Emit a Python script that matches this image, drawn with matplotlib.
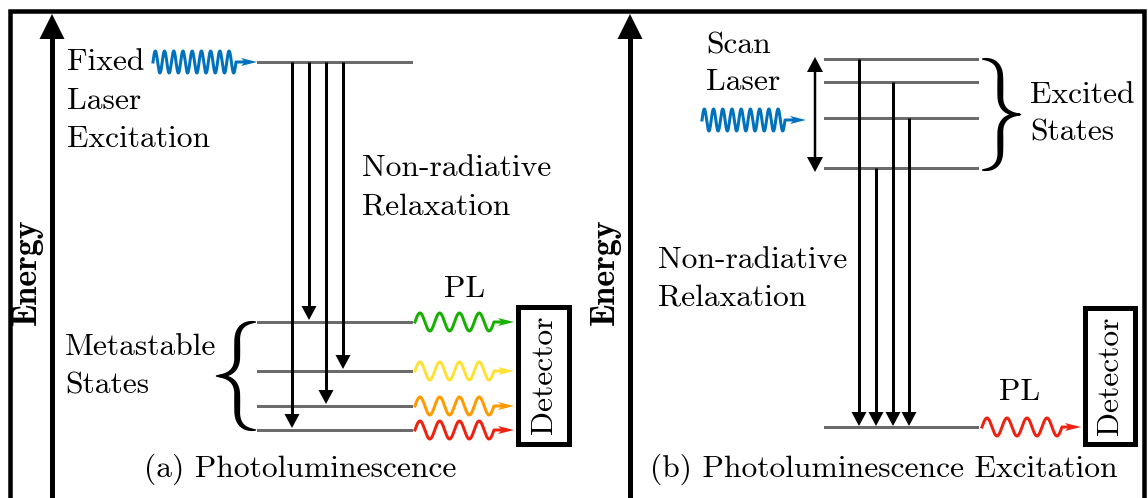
import numpy as np
import matplotlib.pyplot as plt
from matplotlib.patches import Polygon, Rectangle

# canvas in pixel units (y grows downward)
W, H = 1148, 498
PX = 0.72  # points per pixel at dpi 100

# (a) photoluminescence: pump level and metastable states
pl_pump = 62
pl_states = [322, 371, 406, 430]
pl_colors = ['#18b000', '#ffe135', '#ff9a00', '#ee2211']
pl_drop_x = [292, 309, 326, 343]
pl_drop_to = [430, 322, 406, 371]

# (b) photoluminescence excitation: excited states and ground level
ple_states = [59, 82, 118, 168]
ple_ground = 427
ple_drop_x = [859, 876, 893, 909]
ple_drop_from = [59, 168, 82, 118]

LEVEL = '#6b6b6b'
BLUE = '#0072bd'
FONT = 'cmr10'
FS = 22.7


def head(ax, tx, ty, ux, uy, length, width, color, notch=0.0, z=5):
    n = np.hypot(ux, uy)
    ux, uy = ux / n, uy / n
    bx, by = tx - ux * length, ty - uy * length
    px, py = -uy, ux
    pts = [(tx, ty),
           (bx + px * width / 2, by + py * width / 2),
           (bx + ux * notch * length, by + uy * notch * length),
           (bx - px * width / 2, by - py * width / 2)]
    ax.add_patch(Polygon(pts, closed=True, fc=color, ec='none', zorder=z))


def arrow(ax, x0, y0, x1, y1, lw, hl, hw, color='black', both=False):
    ux, uy = x1 - x0, y1 - y0
    n = np.hypot(ux, uy)
    ux, uy = ux / n, uy / n
    sx0, sy0 = (x0 + ux * hl * 0.8, y0 + uy * hl * 0.8) if both else (x0, y0)
    ax.plot([sx0, x1 - ux * hl * 0.8], [sy0, y1 - uy * hl * 0.8],
            color=color, lw=lw * PX, solid_capstyle='butt', zorder=4)
    head(ax, x1, y1, ux, uy, hl, hw, color)
    if both:
        head(ax, x0, y0, -ux, -uy, hl, hw, color)


def wave(ax, x0, x1, y, cycles, amp, color, tip, hl=16, hw=8):
    xs = np.linspace(x0, x1, 600)
    ys = y - amp * np.sin(2 * np.pi * cycles * (xs - x0) / (x1 - x0))
    xs = np.append(xs, tip - hl * 0.7)
    ys = np.append(ys, y)
    ax.plot(xs, ys, color=color, lw=3 * PX, solid_joinstyle='round', zorder=4)
    head(ax, tip, y, 1, 0, hl, hw, color, notch=0.25)


def qbez(p0, p1, p2, n=40):
    t = np.linspace(0, 1, n)[:, None]
    p0, p1, p2 = map(np.asarray, (p0, p1, p2))
    return (1 - t) ** 2 * p0 + 2 * (1 - t) * t * p1 + t ** 2 * p2


def brace(ax, x_end, x_tip, y0, y1, w_max=6.0, w_min=1.0):
    xs = x_end + 0.47 * (x_tip - x_end)
    ym = (y0 + y1) / 2
    r = abs(xs - x_end)
    seg1 = qbez((x_end, y0), (xs, y0), (xs, y0 + r))
    seg2 = np.column_stack([np.full(30, xs), np.linspace(y0 + r, ym - r, 30)])
    seg3 = qbez((xs, ym - r), (xs, ym), (x_tip, ym))
    top = np.vstack([seg1, seg2[1:], seg3[1:]])
    d = np.hypot(*np.diff(top, axis=0).T)
    s = np.concatenate([[0], np.cumsum(d)])
    s /= s[-1]
    w = w_min + (w_max - w_min) * np.sin(np.pi * s) ** 0.6
    bot = top[::-1].copy()
    bot[:, 1] = 2 * ym - bot[:, 1]
    c = np.vstack([top, bot[1:]])
    w = np.concatenate([w, w[::-1][1:]])
    g = np.gradient(c, axis=0)
    g /= np.hypot(g[:, 0], g[:, 1])[:, None]
    nrm = np.column_stack([-g[:, 1], g[:, 0]])
    left = c + nrm * w[:, None] / 2
    right = c - nrm * w[:, None] / 2
    ax.add_patch(Polygon(np.vstack([left, right[::-1]]), closed=True,
                         fc='black', ec='none', zorder=4))


def label(ax, x, y, s, **kw):
    kw.setdefault('ha', 'left')
    kw.setdefault('va', 'baseline')
    ax.text(x, y, s, fontfamily=FONT, fontsize=FS, color='black', **kw)


def detector(ax, x0, x1, y0, y1):
    b = 5
    ax.add_patch(Rectangle((x0 + b / 2, y0 + b / 2), x1 - x0 - b, y1 - y0 - b,
                           fill=False, ec='black', lw=b * PX, joinstyle='miter', zorder=4))
    ax.text((x0 + x1) / 2 + 1, (y0 + y1) / 2, 'Detector', rotation=90,
            ha='center', va='center', fontfamily=FONT, fontsize=FS)


fig = plt.figure(figsize=(11.48, 4.98), dpi=100)
ax = fig.add_axes([0, 0, 1, 1])
ax.set_xlim(0, W)
ax.set_ylim(H, 0)
ax.axis('off')

# frame
ax.plot([10, 10, 1144, 1144], [H, 11, 11, H], color='black', lw=4.5 * PX,
        solid_joinstyle='miter', zorder=3)

# energy axes
for ex, lx in [(52, 27), (630, 605)]:
    arrow(ax, ex, H + 5, ex, 14, 5, 25, 25)
    ax.text(lx, 272, 'Energy', rotation=90, ha='center', va='center',
            fontfamily='cmb10', fontsize=24.5)

# ---- (a) photoluminescence ----
ax.plot([258, 411], [pl_pump, pl_pump], color=LEVEL, lw=3 * PX, zorder=3)
for yl in pl_states:
    ax.plot([258, 411], [yl, yl], color=LEVEL, lw=3 * PX, zorder=3)
for xa, ya in zip(pl_drop_x, pl_drop_to):
    arrow(ax, xa, pl_pump, xa, ya - 2, 3, 14, 15)
wave(ax, 153, 236, pl_pump, 9, 11, BLUE, 257)
for yl, col in zip(pl_states, pl_colors):
    wave(ax, 415, 494, yl, 4, 9, col, 514)
brace(ax, 256, 216, pl_states[0], pl_states[-1])
detector(ax, 515, 571, 304, 446)

label(ax, 67, 70, 'Fixed')
label(ax, 67, 109, 'Laser')
label(ax, 67, 147, 'Excitation')
label(ax, 362, 176, 'Non-radiative')
label(ax, 362, 214, 'Relaxation')
label(ax, 65, 355, 'Metastable')
label(ax, 65, 393, 'States')
label(ax, 465, 297, 'PL', ha='center')
label(ax, 300, 477, '(a) Photoluminescence', ha='center')

# ---- (b) photoluminescence excitation ----
for yl in ple_states + [ple_ground]:
    ax.plot([825, 977], [yl, yl], color=LEVEL, lw=3 * PX, zorder=3)
for xa, ya in zip(ple_drop_x, ple_drop_from):
    arrow(ax, xa, ya, xa, ple_ground - 1, 3, 14, 15)
arrow(ax, 815, 57, 815, 172, 2.5, 15, 16, both=True)
wave(ax, 702, 785, 120, 9, 11, BLUE, 806)
wave(ax, 982, 1062, ple_ground, 4, 9, '#ee2211', 1081)
brace(ax, 982, 1021, ple_states[0], ple_states[-1] + 2)
detector(ax, 1082, 1137, 305, 446)

label(ax, 706, 53, 'Scan')
label(ax, 706, 90, 'Laser')
label(ax, 1030, 103, 'Excited')
label(ax, 1030, 140, 'States')
label(ax, 658, 268, 'Non-radiative')
label(ax, 658, 305, 'Relaxation')
label(ax, 1020, 400, 'PL', ha='center')
label(ax, 884, 477, '(b) Photoluminescence Excitation', ha='center')

fig.savefig('out.png', dpi=100)
